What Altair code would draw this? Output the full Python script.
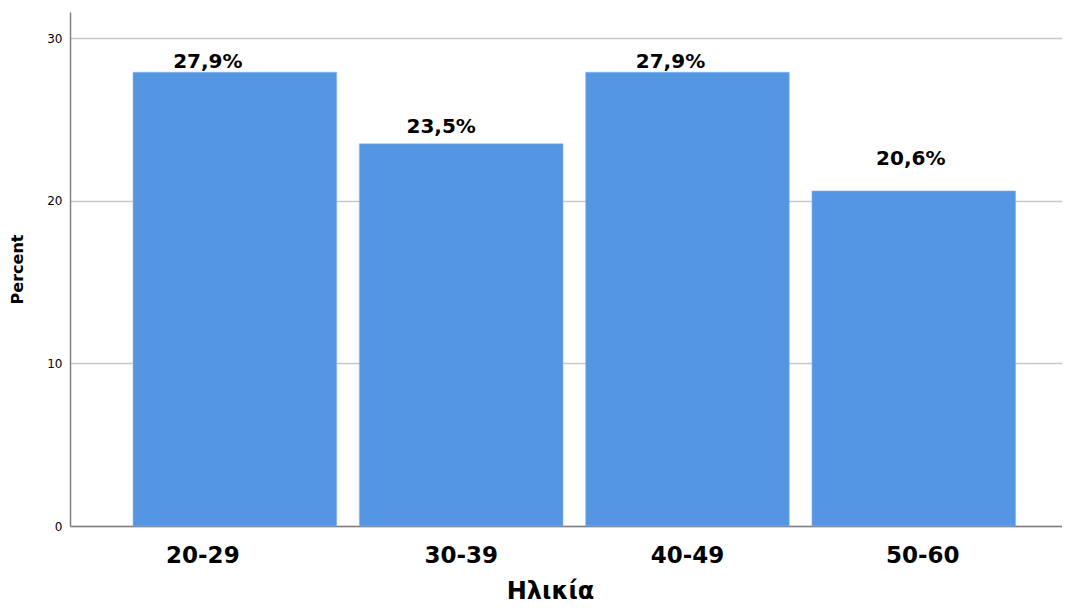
import altair as alt
import pandas as pd

categories = ["20-29", "30-39", "40-49", "50-60"]
percent = [27.9, 23.5, 27.9, 20.6]
labels = ["27,9%", "23,5%", "27,9%", "20,6%"]

df = pd.DataFrame({"age": categories, "pct": percent, "label": labels})

font = "DejaVu Sans"

base = alt.Chart(df)

bars = base.mark_bar(color="#5596e3", stroke="#8ab6ee", strokeWidth=0.5).encode(
    x=alt.X("age:N", sort=categories, title="Ηλικία",
            scale=alt.Scale(paddingInner=0.1, paddingOuter=0.2417, align=0.576),
            axis=alt.Axis(labelAngle=0, labelFontSize=23, labelFontWeight="bold",
                          labelFont=font, labelColor="#000", labelPadding=18,
                          labelOffset=alt.ExprRef(
                              "datum.value == '20-29' ? -32 : (datum.value == '50-60' ? 9 : 0)"),
                          ticks=False, domainColor="#808080", domainWidth=1.5,
                          titleFontSize=24, titleFontWeight="bold", titleFont=font,
                          titleColor="#000", titlePadding=12, titleX=480)),
    y=alt.Y("pct:Q", title="Percent",
            scale=alt.Scale(domain=[0, 31.6], nice=False),
            axis=alt.Axis(values=[0, 10, 20, 30], labelFontSize=12, labelFont=font,
                          labelColor="#000", ticks=False, labelPadding=8,
                          domainColor="#808080", domainWidth=1.5,
                          gridColor="#c8c8c8", gridWidth=1.5,
                          titleFontSize=16, titleFontWeight="bold", titleFont=font,
                          titleColor="#000", titlePadding=21)),
)

text = base.mark_text(
    baseline="alphabetic", fontSize=20, fontWeight="bold", font=font, color="#000",
    dx=alt.ExprRef("datum.age == '20-29' ? -27 : datum.age == '30-39' ? -20 : datum.age == '40-49' ? -17 : -3"),
    dy=alt.ExprRef("datum.age == '30-39' ? -11 : datum.age == '50-60' ? -26 : -4"),
).encode(
    x=alt.X("age:N", sort=categories),
    y=alt.Y("pct:Q"),
    text="label:N",
)

chart = (bars + text).properties(
    width=992, height=514,
    autosize="none",
    padding={"left": 62, "top": 4, "right": 0, "bottom": 80},
).configure_view(stroke=None)

chart.save("out.html", embed_options={"renderer": "svg", "actions": False})
